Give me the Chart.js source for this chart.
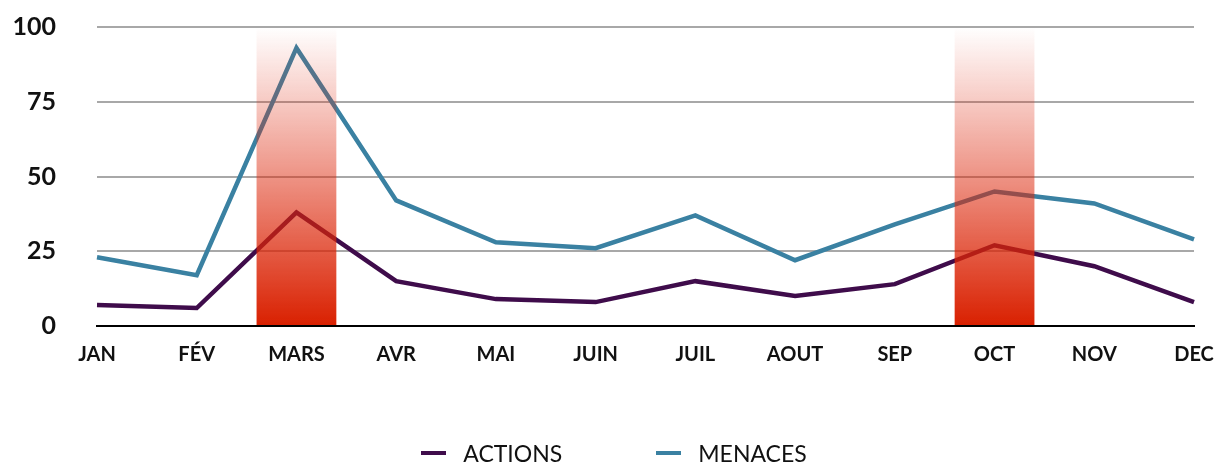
<!DOCTYPE html>
<html>
<head>
<meta charset="utf-8">
<script src="https://cdn.jsdelivr.net/npm/chart.js@4"></script>
<style>
  html, body { margin: 0; padding: 0; background: #fff; }
  #wrap { position: relative; width: 1215px; height: 465px; }
  #legend {
    position: absolute; left: 0; right: 0; top: 438px;
    display: flex; justify-content: center; gap: 94px; padding-left: 13px;
    font-family: Lato, sans-serif; font-size: 23px; color: #111;
  }
  #legend .item { display: flex; align-items: center; height: 30px; }
  #legend .mark { width: 25px; height: 4px; margin-right: 17px; }
</style>
</head>
<body>
<div id="wrap">
  <canvas id="chart"></canvas>
  <div id="legend"></div>
</div>
<script>
const months = ["JAN", "FÉV", "MARS", "AVR", "MAI", "JUIN", "JUIL", "AOUT", "SEP", "OCT", "NOV", "DEC"];
const actions = [7, 6, 38, 15, 9, 8, 15, 10, 14, 27, 20, 8];
const menaces = [23, 17, 93, 42, 28, 26, 37, 22, 34, 45, 41, 29];
const highlightMonths = ["MARS", "OCT"];
const yTicks = [0, 25, 50, 75, 100];

const yMax = yTicks[yTicks.length - 1];
const highlight = months.map(m => highlightMonths.includes(m) ? yMax : null);

// red band fading out towards the top of the plot
function redGradient(context) {
  const area = context.chart.chartArea;
  if (!area) return "rgba(218,32,0,0.6)";
  const g = context.chart.ctx.createLinearGradient(0, area.top, 0, area.bottom);
  g.addColorStop(0, "rgba(224,45,20,0)");
  g.addColorStop(1, "rgba(217,32,0,1)");
  return g;
}

const ctx = document.getElementById("chart").getContext("2d");
const chart = new Chart(ctx, {
  type: "line",
  data: {
    labels: months,
    datasets: [
      {
        type: "bar",
        label: "highlight",
        data: highlight,
        backgroundColor: redGradient,
        borderWidth: 0,
        barPercentage: 1,
        categoryPercentage: 0.8,
        order: 0
      },
      {
        label: "ACTIONS",
        data: actions,
        borderColor: "#3f0c4b",
        backgroundColor: "#3f0c4b",
        borderWidth: 4.5,
        pointRadius: 0,
        tension: 0,
        fill: false,
        order: 1
      },
      {
        label: "MENACES",
        data: menaces,
        borderColor: "#3a81a2",
        backgroundColor: "#3a81a2",
        borderWidth: 4.5,
        pointRadius: 0,
        tension: 0,
        fill: false,
        order: 1
      }
    ]
  },
  options: {
    responsive: true,
    maintainAspectRatio: false,
    animation: false,
    layout: { padding: { left: 14, right: 21, top: 27, bottom: 97 } },
    plugins: {
      legend: { display: false },
      tooltip: { enabled: false }
    },
    scales: {
      x: {
        offset: false,
        grid: { display: false, drawTicks: false },
        border: { display: true, color: "#000", width: 2 },
        ticks: {
          padding: 17,
          color: "#111",
          font: { family: "Lato", size: 20, weight: "bold" }
        },
        afterFit: axis => {
          axis.height = 42;
          axis.paddingLeft = 0;
          axis.paddingRight = 0;
        }
      },
      y: {
        min: 0,
        max: yMax,
        afterBuildTicks: axis => { axis.ticks = yTicks.map(v => ({ value: v })); },
        afterFit: axis => {
          axis.width = 83;
          axis.paddingTop = 0;
          axis.paddingBottom = 0;
        },
        border: { display: false },
        grid: {
          drawTicks: false,
          lineWidth: 2,
          color: c => c.tick && c.tick.value === 0 ? "#000" : "#a8a8a8"
        },
        ticks: {
          padding: 41,
          color: "#111",
          font: { family: "Lato", size: 25, weight: "bold" }
        }
      }
    }
  }
});

// html legend, built from the line datasets
const legend = document.getElementById("legend");
chart.data.datasets.filter(d => d.type !== "bar").forEach(d => {
  const item = document.createElement("div");
  item.className = "item";
  item.innerHTML = `<span class="mark" style="background:${d.borderColor}"></span><span>${d.label}</span>`;
  legend.appendChild(item);
});
</script>
</body>
</html>
